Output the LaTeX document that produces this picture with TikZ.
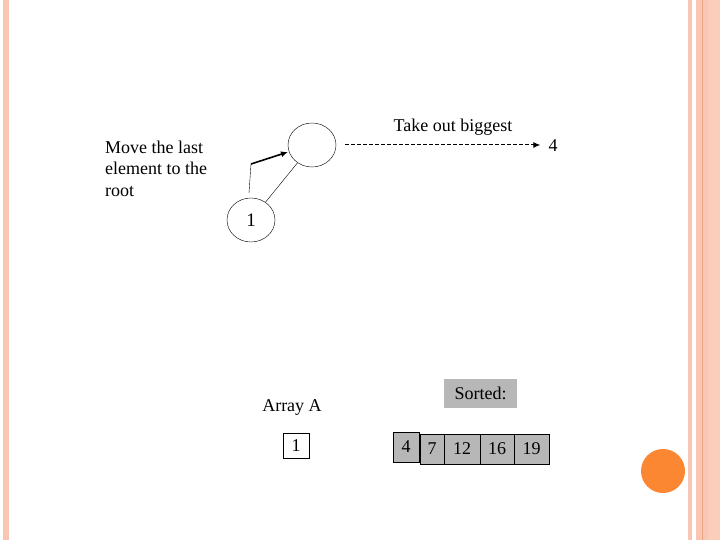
\documentclass[tikz,border=0pt]{standalone}
\usepackage{fontspec}
\setmainfont{Liberation Serif}
\usetikzlibrary{shapes.geometric,arrows.meta}
\definecolor{peach}{HTML}{F8C6B2}
\definecolor{peachlt}{HTML}{FBCDBB}
\definecolor{peachdk}{HTML}{EDA585}
\definecolor{dotorange}{HTML}{FC8733}
\definecolor{cellgray}{HTML}{B7B7B7}
\tikzset{
  txt/.style={font=\fontsize{18}{21.8}\selectfont, inner sep=0pt},
  heapnode/.style={ellipse, draw, thin, minimum width=48pt, minimum height=44pt, inner sep=0pt, font=\fontsize{19}{20}\selectfont},
  cell/.style={draw, thin, fill=cellgray, inner sep=0pt, font=\fontsize{18}{20}\selectfont},
  wcell/.style={draw, thin, inner sep=0pt, font=\fontsize{18}{20}\selectfont},
}
\begin{document}
\begin{tikzpicture}[x=1pt,y=-1pt]
\useasboundingbox (0,0) rectangle (720,540);
\fill[white] (0,0) rectangle (720,540);
% decorative bars
\fill[peach] (3,0) rectangle (9,540);
\fill[peach] (688,0) rectangle (692,540);
\fill[peach] (696,0) rectangle (708,540);
\fill[peachdk] (701.5,0) rectangle (703,540);
\fill[peachlt] (708,0) rectangle (720,540);
\fill[dotorange] (663,471) circle (22);
% heap
\node[heapnode] (root) at (312,145) {};
\node[heapnode] (n1) at (251,220) {1};
\draw[thin] (root) -- (n1);
\coordinate (a0) at (249,193);
\coordinate (a1) at (251,164);
\coordinate (a2) at (288,152);
\draw[thin] (a0) -- (a1);
\draw[line width=1.6pt, -{Latex[length=7pt,width=6pt]}] (a1) -- (a2);
% texts
\node[txt, align=left, anchor=north west] (move) at (105,140.5) {Move the last\\element to the\\root};
\node[txt] (take) at (453,127) {Take out biggest};
\node[txt] (out4) at (553,146) {4};
\draw[line width=1pt, dash pattern=on 4pt off 2pt, -{Latex[length=7pt,width=6pt]}, shorten <=9pt, shorten >=8pt] (root.east) -- (root.east -| out4.west);
% array A
\node[txt] (arrA) at (292,407) {Array A};
\node[wcell, minimum width=26pt, minimum height=25pt] (a1cell) at (296,446) {1};
% sorted
\node[fill=cellgray, minimum width=73pt, minimum height=29pt, inner sep=0pt, font=\fontsize{18}{20}\selectfont] (sorted) at (480.5,393.5) {Sorted:};
\node[cell, minimum width=26pt, minimum height=30pt] (s4) at (406,447) {4};
\node[cell, minimum width=24pt, minimum height=30pt] (s7) at (432,449) {7};
\node[cell, minimum width=36pt, minimum height=30pt] (s12) at (462,449) {12};
\node[cell, minimum width=34pt, minimum height=30pt] (s16) at (497,449) {16};
\node[cell, minimum width=35pt, minimum height=30pt] (s19) at (531.5,449) {19};
\end{tikzpicture}
\end{document}
